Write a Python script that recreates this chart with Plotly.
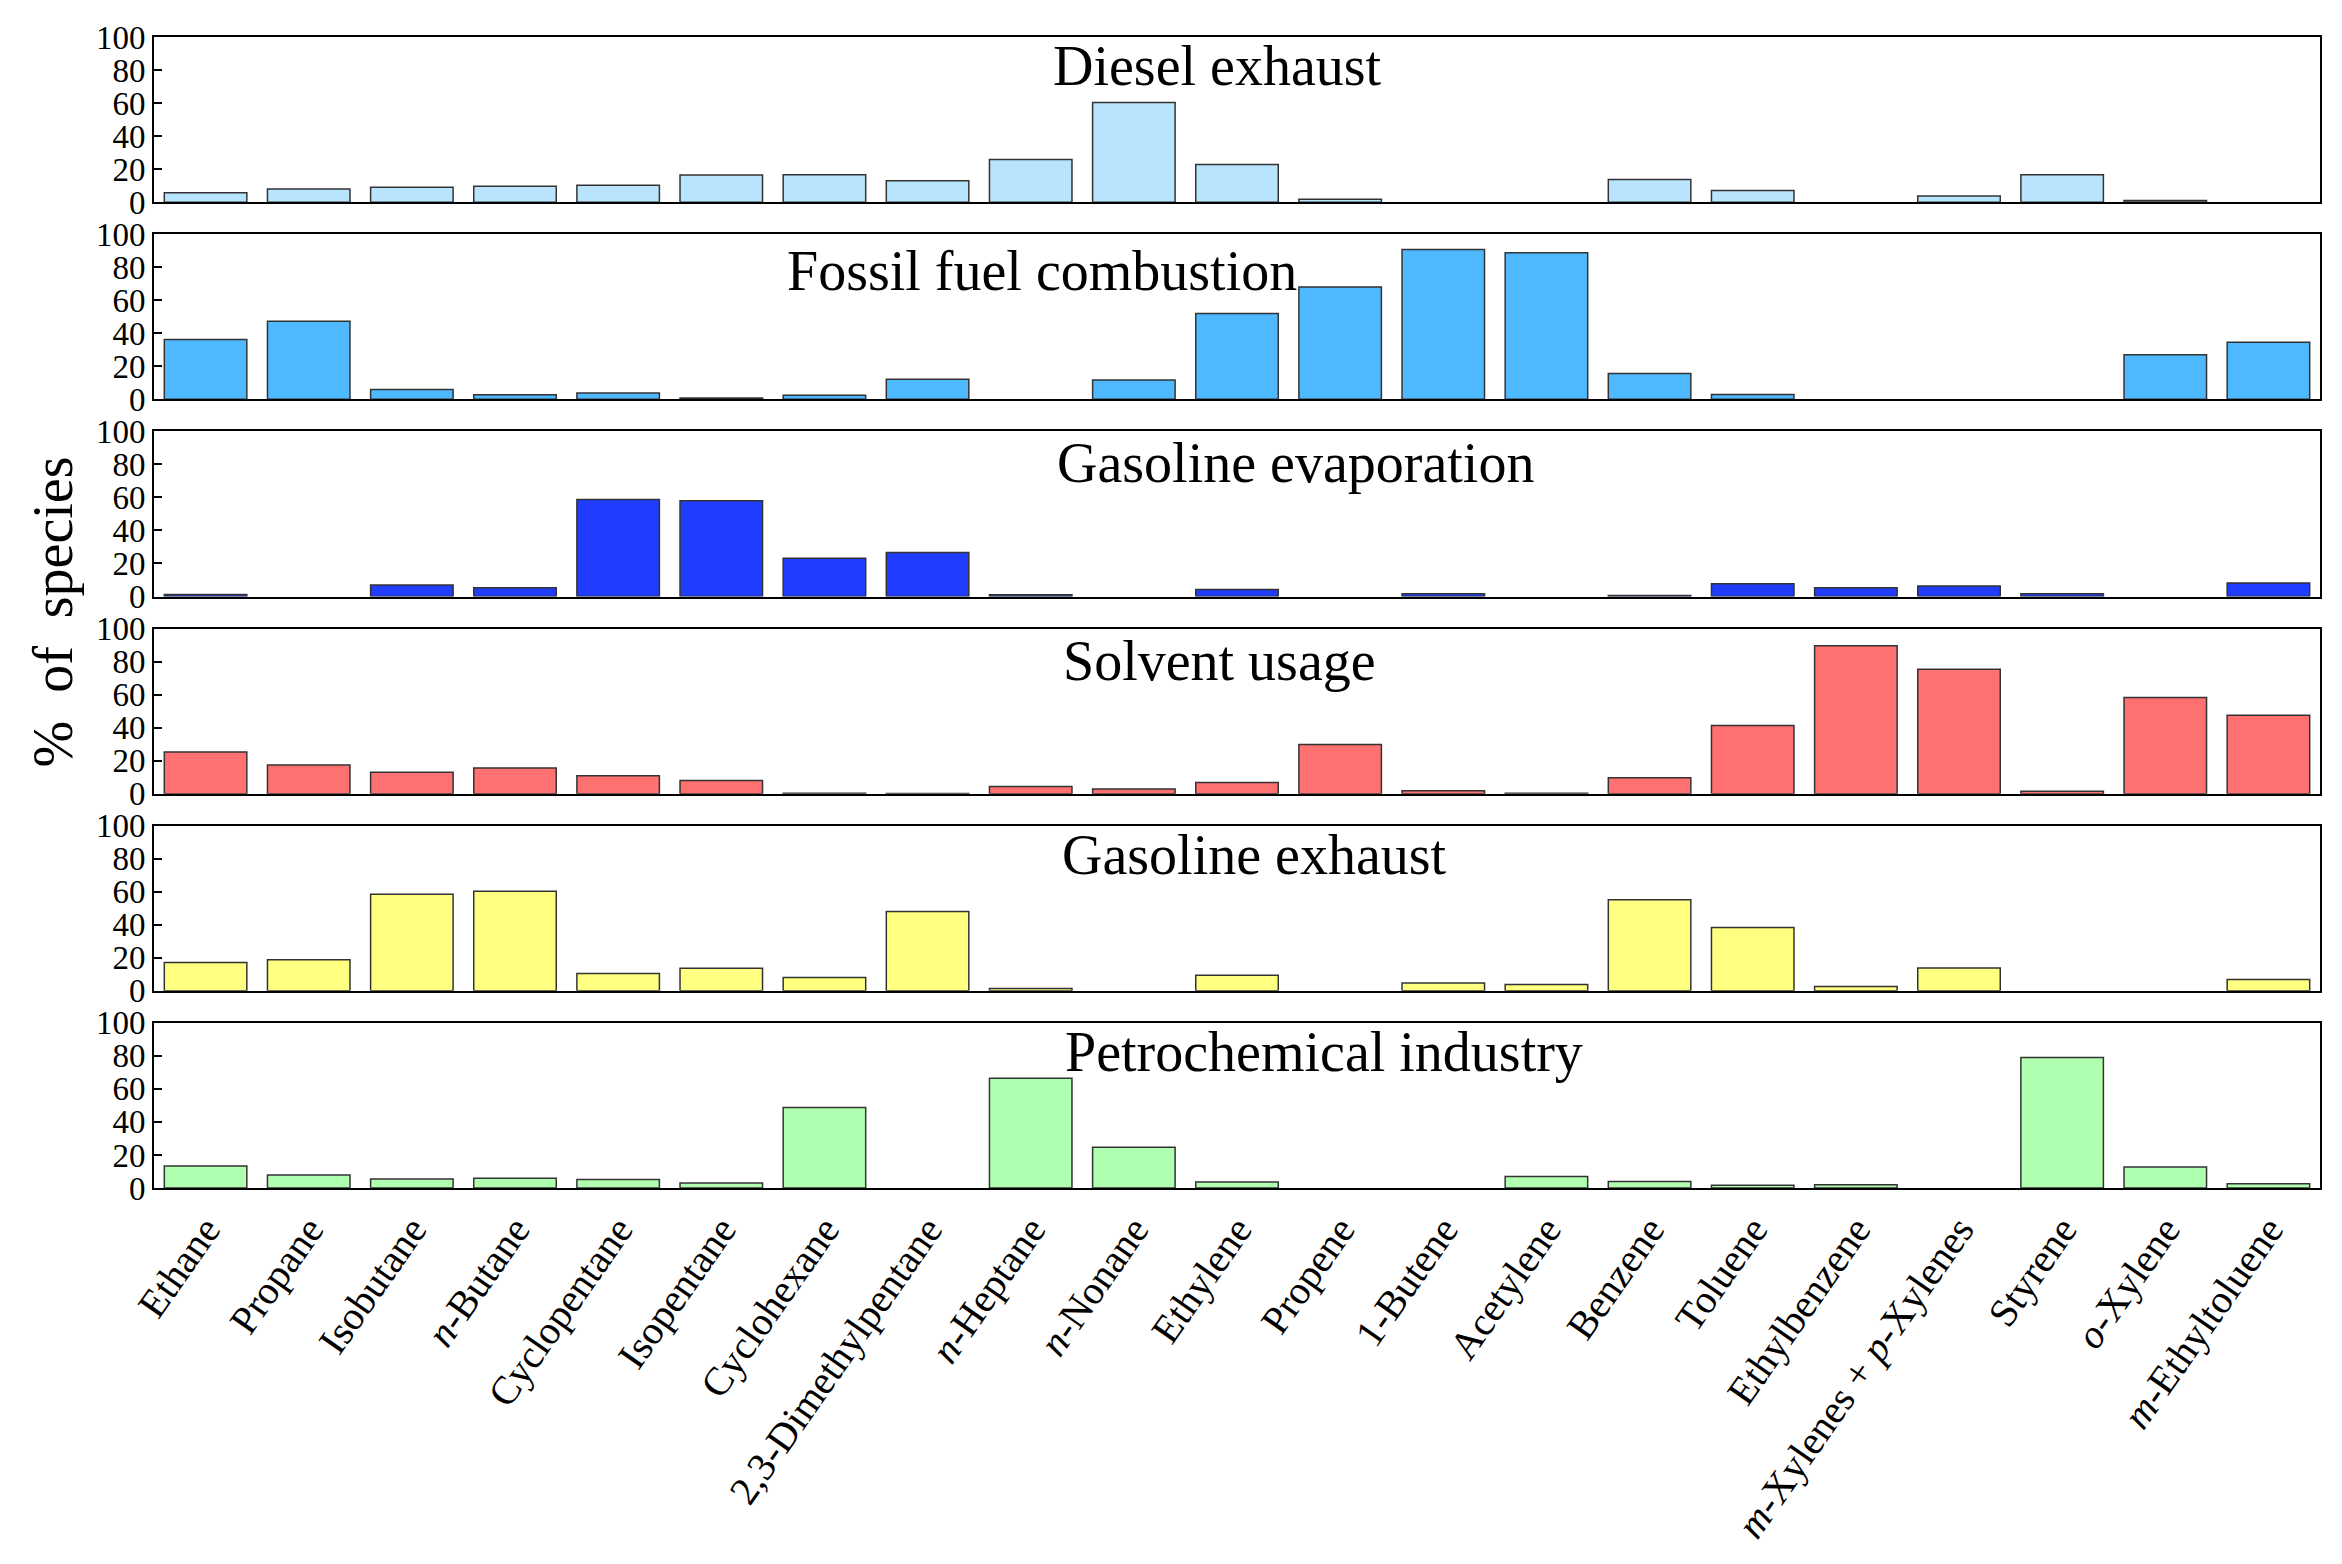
import plotly.graph_objects as go
from plotly.subplots import make_subplots

categories = ["Ethane", "Propane", "Isobutane", "n-Butane", "Cyclopentane", "Isopentane",
              "Cyclohexane", "2,3-Dimethylpentane", "n-Heptane", "n-Nonane", "Ethylene",
              "Propene", "1-Butene", "Acetylene", "Benzene", "Toluene", "Ethylbenzene",
              "m-Xylenes + p-Xylenes", "Styrene", "o-Xylene", "m-Ethyltoluene"]
tick_labels = ["Ethane", "Propane", "Isobutane", "<i>n</i>-Butane", "Cyclopentane", "Isopentane",
               "Cyclohexane", "2,3-Dimethylpentane", "<i>n</i>-Heptane", "<i>n</i>-Nonane", "Ethylene",
               "Propene", "1-Butene", "Acetylene", "Benzene", "Toluene", "Ethylbenzene",
               "<i>m</i>-Xylenes + <i>p</i>-Xylenes", "Styrene", "<i>o</i>-Xylene", "<i>m</i>-Ethyltoluene"]

source_names = ["Diesel exhaust", "Fossil fuel combustion", "Gasoline evaporation",
                "Solvent usage", "Gasoline exhaust", "Petrochemical industry"]

diesel_exhaust = [5.7, 8, 9, 9.7, 10.3, 16.4, 16.6, 13, 25.9, 60.4, 22.8,
                  1.8, 0, 0, 13.7, 7, 0, 3.8, 16.6, 1, 0]
fossil_fuel = [36.2, 47.3, 6, 2.8, 3.8, 0.8, 2.4, 12.1, 0, 11.7, 52,
               68, 90.7, 88.7, 15.6, 3, 0, 0, 0, 27, 34.5]
gasoline_evap = [1.2, 0, 6.9, 5.3, 58.8, 58, 23.2, 26.7, 1, 0, 4.2,
                 0, 1.6, 0, 0.6, 7.7, 5.3, 6.3, 1.6, 0, 8.1]
solvent_usage = [25.3, 17.4, 12.9, 15.6, 10.9, 7.9, 0.3, 0.1, 4.4, 2.8, 6.7,
                 29.7, 1.8, 0.3, 9.7, 41.2, 89.5, 75.4, 1.4, 58.2, 47.5]
gasoline_exhaust = [17.1, 18.8, 58.5, 60.3, 10.5, 13.7, 8.1, 48, 1.4, 0, 9.5,
                    0, 4.8, 3.8, 55.2, 38.3, 2.6, 13.9, 0, 0, 6.9]
petrochemical = [13.3, 7.9, 5.5, 5.9, 5.1, 3, 48.7, 0, 66.5, 24.6, 3.6,
                 0, 0, 6.9, 4, 1.6, 2, 0, 79, 12.7, 2.6]

series = [diesel_exhaust, fossil_fuel, gasoline_evap, solvent_usage, gasoline_exhaust, petrochemical]
colors = ["#b9e4fd", "#4fb9ff", "#1f3cff", "#ff7070", "#ffff80", "#b0ffb0"]
title_x = [0.491, 0.410, 0.527, 0.492, 0.508, 0.540]
title_dy = [-29, -37, -32, -32, -29, -29]

y_ticks = [0, 20, 40, 60, 80, 100]

W, H = 2342, 1564
ml, mr, mt, mb = 146, 30, 29, 384
plot_h = H - mt - mb

fig = make_subplots(rows=6, cols=1, shared_xaxes=True, vertical_spacing=32 / plot_h)

font_family = "Liberation Serif"

for i, (name, vals, col) in enumerate(zip(source_names, series, colors)):
    r = i + 1
    line_w = [1.5 if v > 0 else 0 for v in vals]
    fig.add_trace(go.Bar(x=categories, y=vals,
                         marker=dict(color=col, line=dict(color="#333333", width=line_w)),
                         name=name, showlegend=False), row=r, col=1)
    fig.update_yaxes(range=[0, 100], tickvals=y_ticks, ticks="inside", ticklen=8, tickwidth=2,
                     tickcolor="black", showline=True, linecolor="black", linewidth=2, mirror=True,
                     showgrid=False, zeroline=False,
                     tickfont=dict(family=font_family, size=33, color="black"), row=r, col=1)
    fig.update_xaxes(range=[-0.5, len(categories) - 0.5], showline=True, linecolor="black", linewidth=2,
                     mirror=True, showgrid=False, ticks="", showticklabels=(r == 6), row=r, col=1)
    xref = "x domain" if r == 1 else f"x{r} domain"
    yref = "y domain" if r == 1 else f"y{r} domain"
    fig.add_annotation(text=name, xref=xref, yref=yref, x=title_x[i], y=1, yshift=title_dy[i],
                       xanchor="center", yanchor="middle", showarrow=False,
                       font=dict(family=font_family, size=56, color="black"))

fig.update_xaxes(tickmode="array", tickvals=categories, ticktext=tick_labels, tickangle=-55,
                 tickfont=dict(family=font_family, size=40, color="black"), row=6, col=1)

fig.add_annotation(text="%\u00a0\u00a0of\u00a0\u00a0species", xref="paper", yref="paper",
                   x=(44 - ml) / (W - ml - mr), y=0.5, xanchor="center", yanchor="middle",
                   textangle=-90, showarrow=False,
                   font=dict(family=font_family, size=56, color="black"))

fig.update_layout(width=W, height=H, margin=dict(l=ml, r=mr, t=mt, b=mb),
                  paper_bgcolor="white", plot_bgcolor="white", bargap=0.2)

fig.write_html("out.html")
